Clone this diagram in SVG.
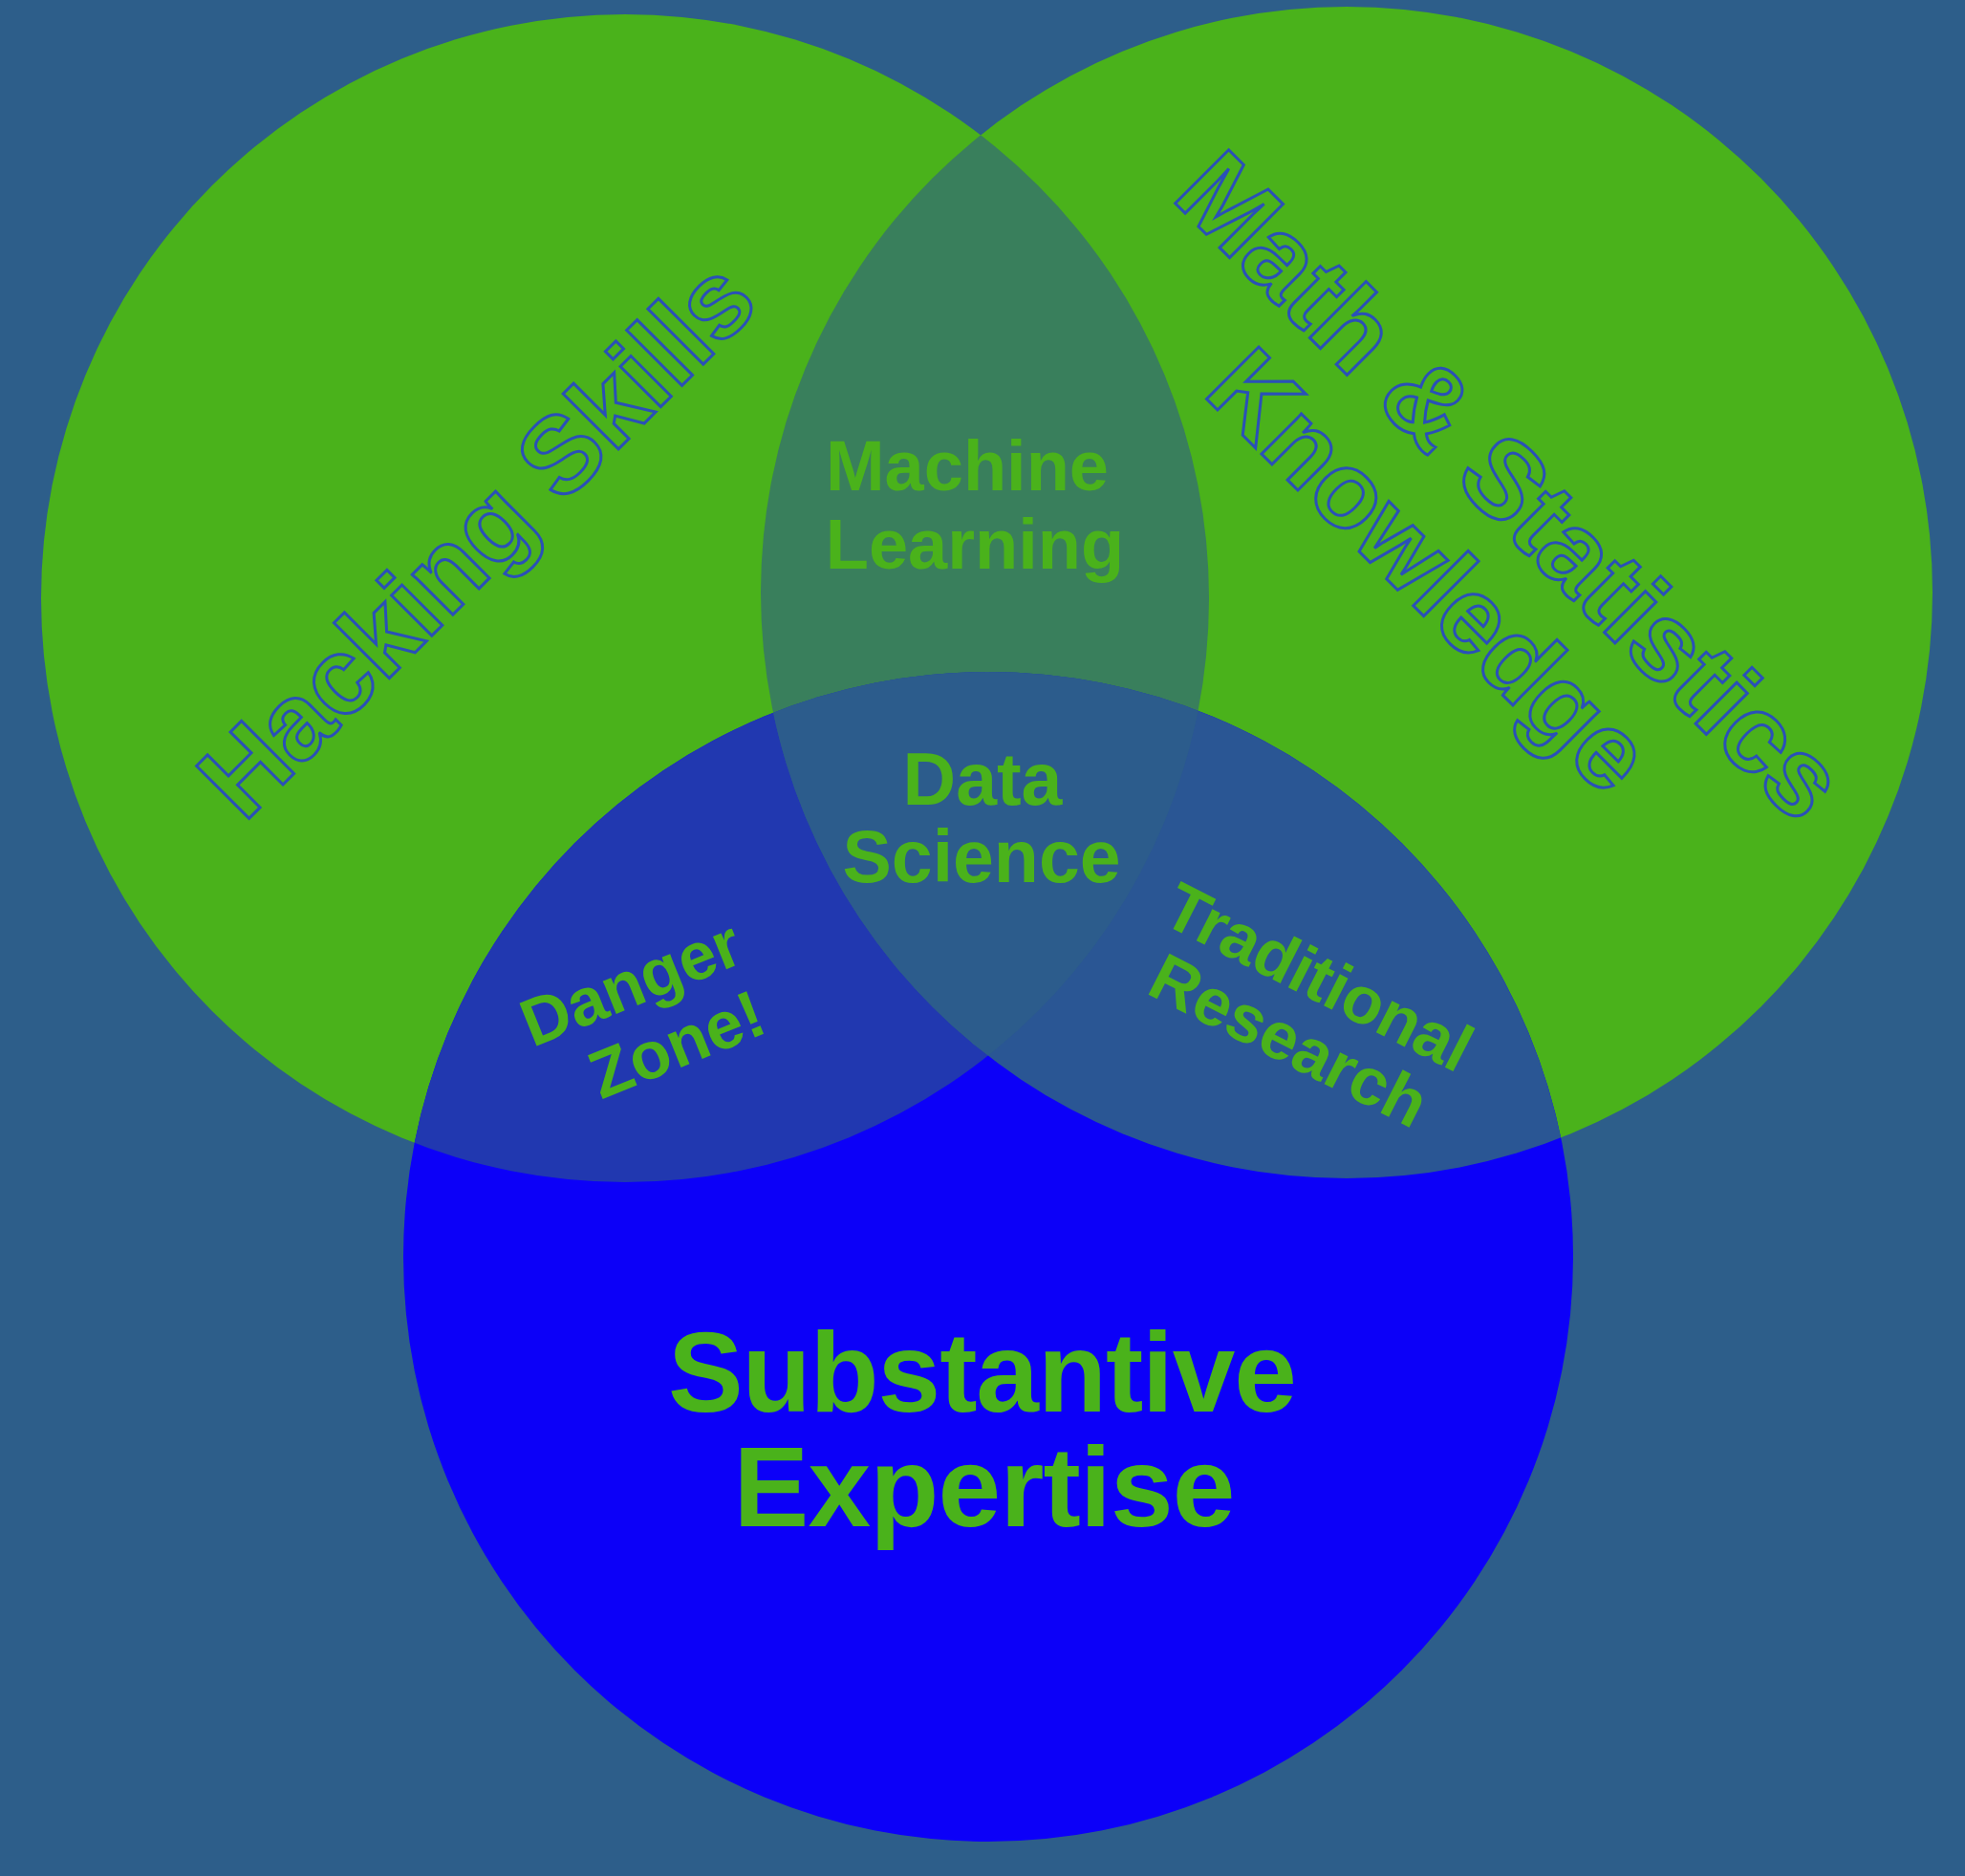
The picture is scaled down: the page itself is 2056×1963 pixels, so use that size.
<svg xmlns="http://www.w3.org/2000/svg" width="2056" height="1963" viewBox="0 0 2056 1963">
<style>
.lbl{font-family:"Liberation Sans",Arial,sans-serif;font-weight:bold;fill:#4ab21b;text-anchor:middle}
.out{font-family:"Liberation Sans",Arial,sans-serif;font-weight:bold;fill:#4ab21b;stroke:#2a50b8;stroke-width:3;text-anchor:middle}
</style>
<defs>
<clipPath id="clipL"><circle cx="654" cy="626" r="611"/></clipPath>
<clipPath id="clipR"><circle cx="1409" cy="620" r="613"/></clipPath>
</defs>
<rect width="2056" height="1963" fill="#2d5e8a"/>
<g id="hacking-skills">
<circle cx="654" cy="626" r="611" fill="#4ab21b"/>
</g>
<g id="math-statistics">
<circle cx="1409" cy="620" r="613" fill="#4ab21b"/>
</g>
<g id="substantive-expertise">
<circle cx="1034" cy="1315" r="612" fill="#0c00f8"/>
</g>
<g id="machine-learning">
<circle cx="1409" cy="620" r="613" fill="#397f5c" clip-path="url(#clipL)"/>
</g>
<g id="danger-zone">
<circle cx="1034" cy="1315" r="612" fill="#2138b0" clip-path="url(#clipL)"/>
</g>
<g id="traditional-research">
<circle cx="1034" cy="1315" r="612" fill="#2a5694" clip-path="url(#clipR)"/>
</g>
<g id="data-science">
<g clip-path="url(#clipR)"><circle cx="1034" cy="1315" r="612" fill="#2c5c8c" clip-path="url(#clipL)"/></g>
</g>
<g id="connectors"/>
<g id="labels">
<text class="out" font-size="113" textLength="766" transform="translate(526,591) rotate(-45)">Hacking Skills</text>
<text class="out" font-size="115" textLength="930" transform="translate(1553,536) rotate(45)">Math &amp; Statistics</text>
<text class="out" font-size="112" textLength="599" transform="translate(1469,624) rotate(45)">Knowledge</text>
<text class="lbl" font-size="74" x="1012" y="513">Machine</text>
<text class="lbl" font-size="74" x="1020" y="595">Learning</text>
<text class="lbl" font-size="77" x="1028" y="842">Data</text>
<text class="lbl" font-size="77" x="1027" y="923">Science</text>
<text class="lbl" font-size="70" transform="translate(669,1051) rotate(-22)">Danger</text>
<text class="lbl" font-size="70" transform="translate(717,1115) rotate(-22)">Zone!</text>
<text class="lbl" font-size="70" textLength="350" transform="translate(1369,1044) rotate(27)">Traditional</text>
<text class="lbl" font-size="70" transform="translate(1338,1110) rotate(27)">Research</text>
<text class="lbl" font-size="118" textLength="658" x="1028" y="1477">Substantive</text>
<text class="lbl" font-size="118" textLength="525" x="1030" y="1597">Expertise</text>
</g>
</svg>
